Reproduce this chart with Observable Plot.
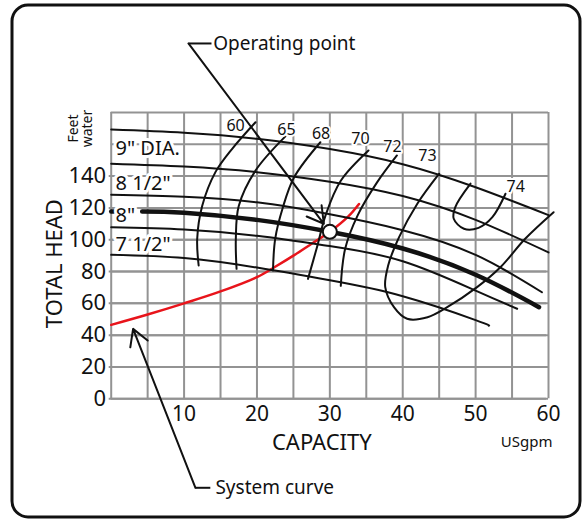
<!DOCTYPE html>
<html><head><meta charset="utf-8">
<script src="https://cdn.jsdelivr.net/npm/d3@7"></script>
<script src="https://cdn.jsdelivr.net/npm/@observablehq/plot@0.6"></script>
<style>body{margin:0;background:#fff} #chart{width:582px;height:520px}</style>
</head><body><div id="chart"></div>
<script>
// ---- axes / grid values ----
const gridQ = [0,5,10,15,20,25,30,35,40,45,50,55,60];
const gridH = [0,20,40,60,80,100,120,140,160,180];
const qTicks = [10,20,30,40,50,60];
const hTicks = [0,20,40,60,80,100,120,140];

// ---- impeller head curves (capacity US gpm, head feet) ----
const curveAQ = [0,10,20,30,40,50,60];
const curveAH = [169.3,167.3,163.5,157,147.5,133,115.5];
const curveBQ = [0,10,20,30,40,50,60];
const curveBH = [147.8,146,142.5,136.5,127.5,112.5,92];
const curveCQ = [0,10,20,30,40,50,59.1];
const curveCH = [128.3,127,123.5,116,106,90.5,67];
const curveDQ = [4.25,10,20,30,40,50,58.7];
const curveDH = [117.8,117,112.5,105,94.5,78,57.6];
const curveDStubQ = [0,0.35];
const curveDStubH = [117.8,117.8];
const curveEQ = [0,10,20,30,40,50,55.7];
const curveEH = [107.9,106.5,102.5,96,86.5,68,56.6];
const curveFQ = [0,10,20,30,40,50,51.8];
const curveFH = [90.5,88.5,82.5,74.5,64.5,49.5,46];

const diaLabels = ['9" DIA.', '8 1/2"', '8"', '7 1/2"'];
const diaLabelQ = [0.6,0.6,0.6,0.6];
const diaLabelH = [157.2,135.2,115.2,96.8];

// ---- system curve ----
const systemQ = [0,5,10,15,20,22.5,25,27.5,30,32.5,34];
const systemH = [46.5,53,60,67.5,76.5,83,90,97.5,105,114.5,122.5];

// ---- efficiency contours (%) ----
const eff60Q = [19.8,16.6,14.3,12.5,11.8,12.0];
const eff60H = [173.9,157.2,142.5,121.5,100.6,83.8];
const eff65Q = [23.9,19.8,17.5,17.1,17.2];
const eff65H = [165,143.5,121.2,100.6,81.7];
const eff68Q = [28.7,25.1,23.5,22.5,22.2];
const eff68H = [161.3,139.3,119.5,100.6,80.7];
const eff70Q = [35.3,31.5,29.4,28.3,27.0];
const eff70H = [156.1,137.1,115.2,96.4,75.4];
const eff72Q = [39.2,36.5,33.8,32.1,31.5];
const eff72H = [153,136.2,115.2,94.3,71];
const eff73Q = [45.0,42.0,39.5,38.0,37.6,38.8,40.6,43.4,46.1,50.2,53.4,56.8,60.7];
const eff73H = [141.5,122.6,101.6,83.8,70.2,57.6,50.3,51.3,57.6,70.2,82.7,100.6,117.3];
const eff74Q = [49.3,47.2,47.0,48.4,50.4,52.3,54.1];
const eff74H = [135.3,120.4,113.2,106.9,107.5,114.2,128.9];

const effLabels = ["60","65","68","70","72","73","74"];
const effLabelQ = [17.06,24.05,28.8,34.2,38.6,43.4,55.5];
const effLabelH = [171.9,169.3,166.6,163.5,158.2,153.0,133.0];

// ---- operating point & callouts ----
const operatingQ = 30;
const operatingH = 105;
const calloutText = ["Operating point", "System curve"];
const calloutTailQ = [10.6, 11.56];
const calloutTailH = [223.4, -55.95];
const calloutStubQ = [13.76, 13.6];
const calloutTipQ = [30, 2.5];
const calloutTipH = [105, 49.8];
const calloutTextQ = [14.0, 14.3];

// ---- build tables ----
const rows = (name, q, h) => q.map((v, i) => ({name, q: v, h: h[i]}));
const headRows = [
  ...rows("A", curveAQ, curveAH), ...rows("B", curveBQ, curveBH),
  ...rows("C", curveCQ, curveCH), ...rows("E", curveEQ, curveEH),
  ...rows("F", curveFQ, curveFH)
];
const thickRows = rows("D", curveDQ, curveDH);
const stubRows = rows("Ds", curveDStubQ, curveDStubH);
const sysRows = rows("sys", systemQ, systemH);
const effRows = [
  ...rows("60", eff60Q, eff60H), ...rows("65", eff65Q, eff65H),
  ...rows("68", eff68Q, eff68H), ...rows("70", eff70Q, eff70H),
  ...rows("72", eff72Q, eff72H), ...rows("73", eff73Q, eff73H),
  ...rows("74", eff74Q, eff74H)
];
const effLabelRows = effLabels.map((t, i) => ({t, q: effLabelQ[i], h: effLabelH[i]}));
const diaLabelRows = diaLabels.map((t, i) => ({t, q: diaLabelQ[i], h: diaLabelH[i]}));
const callouts = calloutText.map((t, i) => ({
  t, q0: calloutTailQ[i], h0: calloutTailH[i], qs: calloutStubQ[i],
  q1: calloutTipQ[i], h1: calloutTipH[i], qt: calloutTextQ[i]
}));

const grid = "#939393";
const ink = "#111";

const svg = Plot.plot({
  width: 582, height: 520,
  marginLeft: 110.7, marginRight: 34, marginTop: 112, marginBottom: 121.7,
  x: {domain: [0, 60], axis: null},
  y: {domain: [0, 180], axis: null},
  style: {fontFamily: "'Noto Sans', sans-serif", background: "white", color: ink},
  marks: [
    Plot.ruleX(gridQ, {stroke: grid, strokeWidth: 2}),
    Plot.ruleY(gridH, {stroke: grid, strokeWidth: 2}),
    Plot.tickY(hTicks, {y: d => d, frameAnchor: "left", stroke: grid, strokeWidth: 2, dx: -2, inset: 0}),
    Plot.text(hTicks, {y: d => d, text: d => String(d), frameAnchor: "left", textAnchor: "end", lineAnchor: "middle", dx: -5, fontSize: 22, fill: ink}),
    Plot.text(qTicks, {x: d => d, text: d => String(d), frameAnchor: "bottom", textAnchor: "middle", lineAnchor: "middle", dy: 15, fontSize: 21, fill: ink}),
    Plot.line(sysRows, {x: "q", y: "h", stroke: "#e8141b", strokeWidth: 2.5, curve: "catmull-rom"}),
    Plot.line(headRows, {x: "q", y: "h", z: "name", stroke: ink, strokeWidth: 2, curve: "natural"}),
    Plot.line(thickRows, {x: "q", y: "h", stroke: ink, strokeWidth: 4.5, curve: "natural"}),
    Plot.line(stubRows, {x: "q", y: "h", stroke: ink, strokeWidth: 4.5}),
    Plot.line(effRows, {x: "q", y: "h", z: "name", stroke: ink, strokeWidth: 2, curve: "catmull-rom"}),
    Plot.text(effLabelRows, {x: "q", y: "h", text: "t", fontSize: 16, fill: ink, stroke: "white", strokeWidth: 4}),
    Plot.text(diaLabelRows, {x: "q", y: "h", text: "t", textAnchor: "start", fontSize: 20, fill: ink, stroke: "white", strokeWidth: 6}),
    Plot.dot([{q: operatingQ, h: operatingH}], {x: "q", y: "h", r: 7, fill: "white", stroke: ink, strokeWidth: 2}),
    Plot.link(callouts, {x1: "q0", y1: "h0", x2: "qs", y2: "h0", stroke: ink, strokeWidth: 2}),
    Plot.arrow(callouts, {x1: "q0", y1: "h0", x2: "q1", y2: "h1", stroke: ink, strokeWidth: 2, headLength: 14, insetEnd: 10}),
    Plot.text(callouts, {x: "qt", y: "h0", text: "t", textAnchor: "start", fontSize: 19, fill: ink}),
    Plot.text(["TOTAL HEAD"], {text: d => d, frameAnchor: "left", textAnchor: "middle", lineAnchor: "middle", dx: -56, dy: 8, rotate: -90, fontSize: 22, fill: ink}),
    Plot.text(["Feet\nwater"], {text: d => d, frameAnchor: "top-left", textAnchor: "middle", lineAnchor: "middle", dx: -31, dy: 16, rotate: -90, fontSize: 14, lineHeight: 1, fill: ink}),
    Plot.text(["CAPACITY"], {text: d => d, frameAnchor: "bottom", textAnchor: "middle", lineAnchor: "middle", dx: -8, dy: 44, fontSize: 22, fill: ink}),
    Plot.text(["USgpm"], {text: d => d, frameAnchor: "bottom-right", textAnchor: "end", lineAnchor: "middle", dx: 4, dy: 43, fontSize: 15, fill: ink})
  ]
});

// outer rounded border of the figure
d3.select(svg).append("rect")
  .attr("x", 12).attr("y", 5).attr("width", 568).attr("height", 512)
  .attr("rx", 16).attr("fill", "none").attr("stroke", ink).attr("stroke-width", 3);

document.getElementById("chart").appendChild(svg);
</script>
</body></html>
